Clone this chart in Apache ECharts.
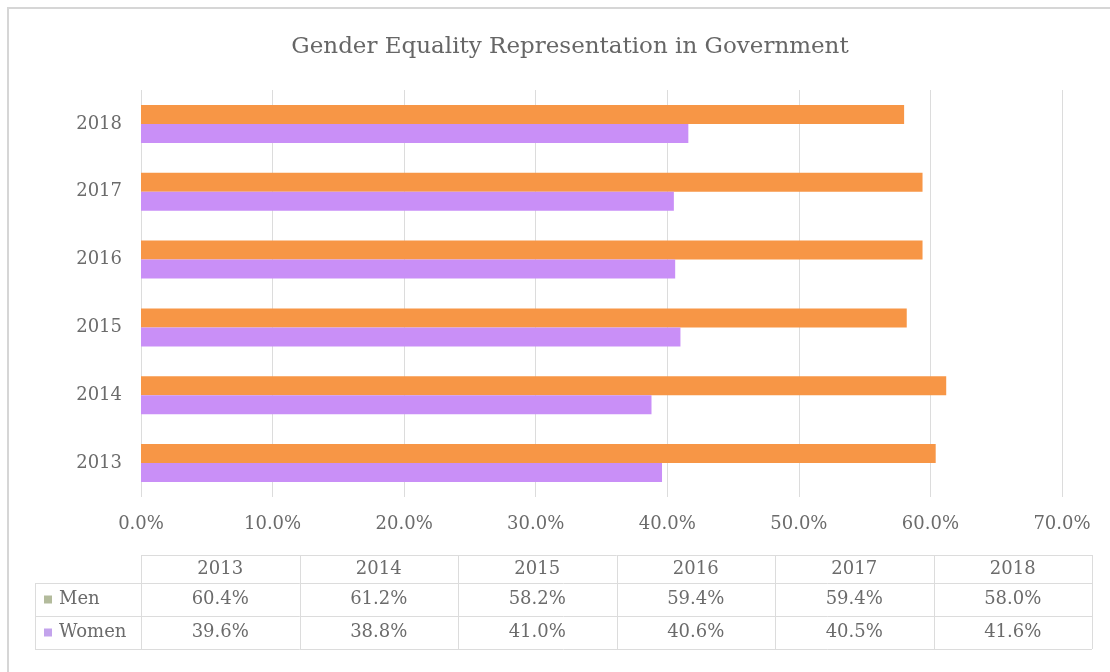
<!DOCTYPE html>
<html>
<head>
<meta charset="utf-8">
<style>html,body{margin:0;padding:0;background:#fff;}#chart{width:1110px;height:672px;}</style>
<script src="https://cdn.jsdelivr.net/npm/echarts@6/dist/echarts.min.js"></script>
</head>
<body>
<div id="chart"></div>
<script>
const years = ['2013', '2014', '2015', '2016', '2017', '2018'];
const men = [60.4, 61.2, 58.2, 59.4, 59.4, 58.0];
const women = [39.6, 38.8, 41.0, 40.6, 40.5, 41.6];
const seriesNames = ['Men', 'Women'];
const legendKeyColors = ['#b3bb9c', '#c3a3ec'];

const FONT = 'DejaVu Serif';
const TXT = '#6b6b6b';
const LINE = '#dcdcdc';

// table layout
const tblLeft = 141, tblRight = 1092, legLeft = 35;
const rowTops = [555, 583, 616, 649];
const colW = (tblRight - tblLeft) / years.length;

function tableGraphics() {
  const g = [];
  const ln = (x1, y1, x2, y2) => g.push({type: 'line', silent: true,
    shape: {x1, y1, x2, y2}, style: {stroke: LINE, lineWidth: 1}});
  ln(tblLeft, rowTops[0] + 0.5, tblRight, rowTops[0] + 0.5);
  for (let r = 1; r < rowTops.length; r++) ln(legLeft, rowTops[r] + 0.5, tblRight, rowTops[r] + 0.5);
  ln(legLeft + 0.5, rowTops[1], legLeft + 0.5, rowTops[3]);
  for (let c = 0; c <= years.length; c++) {
    const x = Math.round(tblLeft + c * colW) + 0.5;
    ln(x, rowTops[0], x, rowTops[3]);
  }
  const txt = (text, x, y, align) => g.push({type: 'text', silent: true, x, y,
    style: {text, fill: TXT, font: '18px "' + FONT + '"', align: align || 'center', verticalAlign: 'middle'}});
  const rows = [men, women];
  years.forEach((yr, i) => {
    const cx = tblLeft + (i + 0.5) * colW;
    txt(yr, cx, (rowTops[0] + rowTops[1]) / 2);
    rows.forEach((arr, r) => txt(arr[i].toFixed(1) + '%', cx, (rowTops[r + 1] + rowTops[r + 2]) / 2));
  });
  seriesNames.forEach((n, r) => {
    const cy = (rowTops[r + 1] + rowTops[r + 2]) / 2;
    g.push({type: 'rect', silent: true, shape: {x: 44, y: cy - 4, width: 8, height: 8},
      style: {fill: legendKeyColors[r]}});
    txt(n, 59, cy, 'left');
  });
  // outer chart border
  g.push({type: 'rect', silent: true, shape: {x: 8, y: 8, width: 1120, height: 690},
    style: {fill: 'none', stroke: '#d6d6d6', lineWidth: 2}});
  return g;
}

const chart = echarts.init(document.getElementById('chart'));
chart.setOption({
  animation: false,
  backgroundColor: '#fff',
  title: {
    text: 'Gender Equality Representation in Government',
    left: 565, top: 31, textAlign: 'center',
    textStyle: {fontFamily: FONT, fontSize: 23, fontWeight: 'normal', color: '#666'}
  },
  grid: {left: 141, right: 48, top: 90, bottom: 175},
  xAxis: {
    type: 'value', min: 0, max: 70, interval: 10,
    axisLine: {show: false}, axisTick: {show: false},
    splitLine: {lineStyle: {color: LINE, width: 1}},
    axisLabel: {formatter: v => v.toFixed(1) + '%', color: TXT, fontFamily: FONT, fontSize: 18, margin: 18}
  },
  yAxis: {
    type: 'category', data: years,
    axisLine: {show: false}, axisTick: {show: false},
    axisLabel: {color: TXT, fontFamily: FONT, fontSize: 18, margin: 19}
  },
  series: [
    {name: 'Men', type: 'bar', data: men, barWidth: 19, barGap: '0%',
     itemStyle: {color: '#f79646'}},
    {name: 'Women', type: 'bar', data: women, barWidth: 19, barGap: '0%',
     itemStyle: {color: '#c98ff7'}}
  ],
  graphic: tableGraphics()
});
</script>
</body>
</html>
